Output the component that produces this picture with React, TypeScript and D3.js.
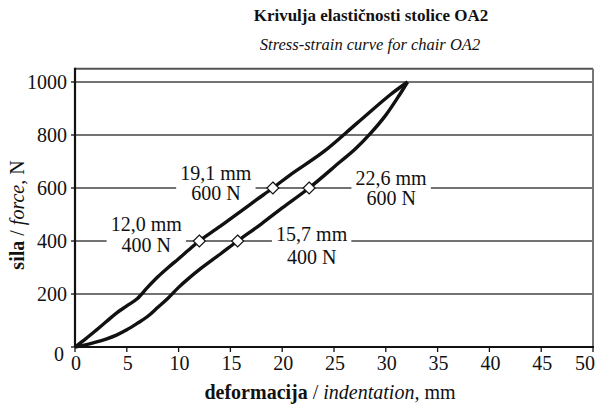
import React from "react";
import * as d3 from "d3";

// ---- data ----
const curveUpperDef = [0, 1, 2, 3, 4, 5, 6, 7, 8, 9, 10, 11, 12, 14, 16, 17.5, 19.1, 20.75, 24, 27.2, 30.4, 32.1];
const curveUpperForce = [0, 30, 62, 95, 128, 155, 182, 225, 265, 300, 333, 367, 400, 455, 512, 555, 600, 649, 737, 844, 951, 1000];
const curveLowerDef = [0, 1, 2, 3, 4, 5, 6, 7, 8, 9, 10, 11, 12, 14, 15.7, 18, 20, 22.6, 25.6, 27, 28.5, 30, 31.3, 32.1];
const curveLowerForce = [0, 8, 18, 30, 45, 65, 89, 115, 150, 185, 225, 260, 292, 350, 400, 465, 525, 600, 699, 745, 805, 875, 950, 1000];
const markerDef = [12.0, 15.7, 19.1, 22.6];
const markerForce = [400, 400, 600, 600];
const markerLabelTop = ["12,0 mm", "15,7 mm", "19,1 mm", "22,6 mm"];
const markerLabelBottom = ["400 N", "400 N", "600 N", "600 N"];
const xTicks = [0, 5, 10, 15, 20, 25, 30, 35, 40, 45, 50];
const yTicks = [0, 200, 400, 600, 800, 1000];

// label layout: pixel offsets relative to marker (center x, baseline of first line)
const labelDx = [-53, 74, -57, 82];
const labelDy = [-10, 0, -8, -3];
const labelGap = [21, 23, 20, 20];

const W = 596;
const H = 409;
const SERIF = '"Liberation Serif", "Times New Roman", Times, serif';

export default function App() {
  const x = d3.scaleLinear().domain([0, 50]).range([75, 593]);
  const y = d3.scaleLinear().domain([0, 1000]).range([347, 82]);
  const yTop = y(1050);

  const line = d3
    .line<[number, number]>()
    .x((p) => x(p[0]))
    .y((p) => y(p[1]))
    .curve(d3.curveCatmullRom.alpha(0.5));

  const upper: [number, number][] = curveUpperDef.map((d, i) => [d, curveUpperForce[i]]);
  const lower: [number, number][] = curveLowerDef.map((d, i) => [d, curveLowerForce[i]]);

  const fs = 20;
  const textW = (s: string) => s.length * fs * 0.51;

  return (
    <div>
      <style>{`body{margin:0;} svg text, svg tspan{font-family:${SERIF} !important;}`}</style>
      <svg width={W} height={H} style={{ display: "block", background: "#fff" }}>
        {/* title */}
        <text x={371} y={21} textAnchor="middle" fontWeight="bold" fontSize={17} fill="#111">
          Krivulja elastičnosti stolice OA2
        </text>
        <text x={370} y={50} textAnchor="middle" fontStyle="italic" fontSize={16.5} fill="#111">
          Stress-strain curve for chair OA2
        </text>

        {/* gridlines */}
        {yTicks
          .filter((t) => t > 0)
          .map((t) => (
            <line key={"g" + t} x1={x(0)} x2={x(50)} y1={y(t)} y2={y(t)} stroke="#444" strokeWidth={1.6} />
          ))}

        {/* frame top/right */}
        <line x1={x(0)} x2={x(50)} y1={yTop} y2={yTop} stroke="#555" strokeWidth={2} />
        <line x1={x(50)} x2={x(50)} y1={yTop} y2={y(0)} stroke="#777" strokeWidth={2} />

        {/* label backgrounds (break the gridlines) */}
        {markerDef.map((d, i) => {
          const cx = x(d) + labelDx[i];
          const w = textW(markerLabelTop[i]) + 8;
          return (
            <rect
              key={"bg" + i}
              x={cx - w / 2}
              y={y(markerForce[i]) - 4}
              width={w}
              height={8}
              fill="#fff"
            />
          );
        })}

        {/* axes */}
        <line x1={x(0)} x2={x(0)} y1={yTop - 1} y2={y(0)} stroke="#111" strokeWidth={2.2} />
        <line x1={x(0)} x2={x(50) + 1} y1={y(0)} y2={y(0)} stroke="#111" strokeWidth={2.2} />

        {/* ticks */}
        {xTicks.map((t) => (
          <g key={"xt" + t}>
            <line x1={x(t)} x2={x(t)} y1={y(0)} y2={y(0) + 5} stroke="#111" strokeWidth={1.3} />
            <text
              x={t === 50 ? x(t) - 8 : x(t) + 1}
              y={370}
              textAnchor="middle"
              fontSize={fs}
              fill="#111"
            >
              {t}
            </text>
          </g>
        ))}
        {yTicks.map((t) => (
          <g key={"yt" + t}>
            <line x1={x(0) - 4} x2={x(0)} y1={y(t)} y2={y(t)} stroke="#111" strokeWidth={1.3} />
            <text
              x={t === 0 ? 64 : 67}
              y={y(t) + (t === 0 ? 14 : 7)}
              textAnchor="end"
              fontSize={fs}
              fill="#111"
            >
              {t}
            </text>
          </g>
        ))}

        {/* curves */}
        <path d={line(upper) || ""} fill="none" stroke="#111" strokeWidth={3.4} strokeLinejoin="round" />
        <path d={line(lower) || ""} fill="none" stroke="#111" strokeWidth={3.4} strokeLinejoin="round" />

        {/* markers */}
        {markerDef.map((d, i) => {
          const mx = x(d);
          const my = y(markerForce[i]);
          const r = 6;
          return (
            <path
              key={"m" + i}
              d={`M${mx},${my - r}L${mx + r},${my}L${mx},${my + r}L${mx - r},${my}Z`}
              fill="#fff"
              stroke="#111"
              strokeWidth={1.2}
            />
          );
        })}

        {/* marker labels */}
        {markerDef.map((d, i) => {
          const cx = x(d) + labelDx[i];
          const by = y(markerForce[i]) + labelDy[i];
          return (
            <g key={"l" + i} fontSize={fs} fill="#111">
              <text x={cx} y={by} textAnchor="middle">
                {markerLabelTop[i]}
              </text>
              <text x={cx} y={by + labelGap[i]} textAnchor="middle">
                {markerLabelBottom[i]}
              </text>
            </g>
          );
        })}

        {/* axis titles */}
        <text x={330} y={399} textAnchor="middle" fontSize={fs} fill="#111">
          <tspan fontWeight="bold">deformacija</tspan>
          <tspan> / </tspan>
          <tspan fontStyle="italic">indentation,</tspan>
          <tspan> mm</tspan>
        </text>
        <text transform={`translate(24,${215}) rotate(-90)`} textAnchor="middle" fontSize={fs} fill="#111">
          <tspan fontWeight="bold">sila</tspan>
          <tspan> / </tspan>
          <tspan fontStyle="italic">force,</tspan>
          <tspan> N</tspan>
        </text>
      </svg>
    </div>
  );
}
